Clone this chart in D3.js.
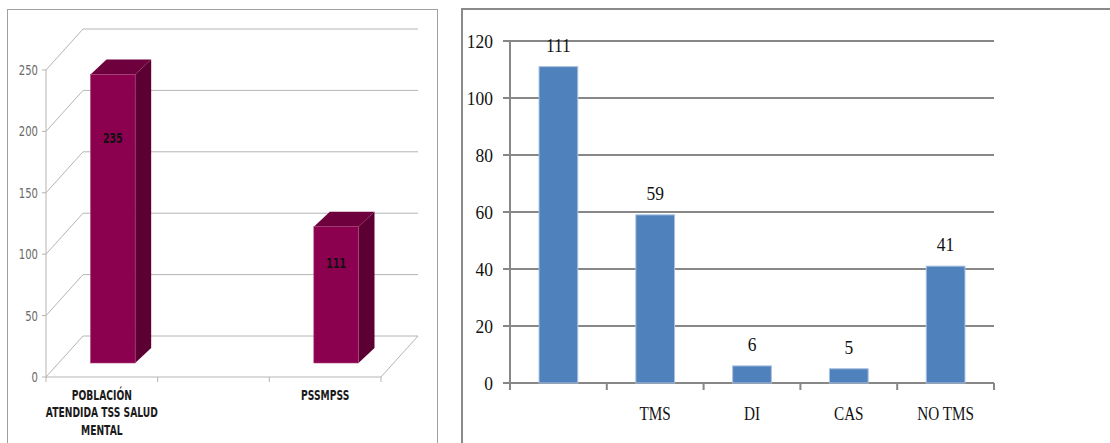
<!DOCTYPE html>
<html>
<head>
<meta charset="utf-8">
<script src="https://cdn.jsdelivr.net/npm/d3@7"></script>
<style>
  html, body { margin: 0; padding: 0; background: #fff; }
  svg { display: block; }
</style>
</head>
<body>
<svg id="chart" width="1110" height="443"></svg>
<script>
// ---------- Data ----------
// Left chart (3D columns)
const leftCategories = ["POBLACIÓN ATENDIDA TSS SALUD MENTAL", "", "PSSMPSS"];
const leftLabelLines = [["POBLACIÓN", "ATENDIDA TSS SALUD", "MENTAL"], [], ["PSSMPSS"]];
const leftValues = [235, null, 111];
const leftTicks = [0, 50, 100, 150, 200, 250];

// Right chart (2D columns)
const rightCategories = ["", "TMS", "DI", "CAS", "NO TMS"];
const rightValues = [111, 59, 6, 5, 41];
const rightTicks = [0, 20, 40, 60, 80, 100, 120];

// ---------- Helpers ----------
const svg = d3.select("#chart");

function stext(g, x, y, str, o) {
  return g.append("text")
    .attr("transform", `translate(${x},${y}) scale(${o.sx || 1},1)`)
    .attr("text-anchor", o.anchor || "middle")
    .attr("dy", o.dy || "0.35em")
    .attr("font-family", o.family)
    .attr("font-size", o.size)
    .attr("font-weight", o.weight || "normal")
    .attr("fill", o.fill || "#000")
    .text(str);
}

// ---------- Frames ----------
svg.append("rect").attr("x", 7.5).attr("y", 9.5).attr("width", 430).attr("height", 460)
  .attr("fill", "none").attr("stroke", "#a0a0a0").attr("stroke-width", 1);
svg.append("rect").attr("x", 462).attr("y", 9).attr("width", 700).attr("height", 460)
  .attr("fill", "none").attr("stroke", "#8a8a8a").attr("stroke-width", 2);

// ---------- Left chart ----------
const L = svg.append("g");
const backDX = 37, backDY = -41;      // depth of the 3D box
const barShiftX = 11, barShiftY = -14; // bar position within depth
const barDX = 16, barDY = -15;         // bar thickness
const xL = d3.scaleBand().domain(d3.range(leftCategories.length)).range([46, 381])
  .paddingInner(0.6).paddingOuter(0.3);
const yL = d3.scaleLinear().domain([0, 250]).range([377, 70]);
const gridL = "#b4b4b4";

// back wall gridlines
leftTicks.forEach(t => {
  L.append("line")
    .attr("x1", xL.range()[0] + backDX).attr("x2", xL.range()[1] + backDX)
    .attr("y1", yL(t) + backDY).attr("y2", yL(t) + backDY)
    .attr("stroke", gridL).attr("stroke-width", 1);
  // side wall diagonals
  L.append("line")
    .attr("x1", xL.range()[0]).attr("y1", yL(t))
    .attr("x2", xL.range()[0] + backDX).attr("y2", yL(t) + backDY)
    .attr("stroke", gridL).attr("stroke-width", 1);
  // tick marks
  L.append("line")
    .attr("x1", xL.range()[0] - 4).attr("x2", xL.range()[0])
    .attr("y1", yL(t)).attr("y2", yL(t))
    .attr("stroke", gridL).attr("stroke-width", 1);
  stext(L, xL.range()[0] - 8, yL(t), String(t),
    { anchor: "end", family: "DejaVu Sans", size: 14, fill: "#6a6a6a", sx: 0.72 });
});
// front vertical axis
L.append("line").attr("x1", xL.range()[0]).attr("x2", xL.range()[0])
  .attr("y1", yL(250)).attr("y2", yL(0)).attr("stroke", gridL).attr("stroke-width", 1);
// floor front edge and right edge
L.append("line").attr("x1", xL.range()[0]).attr("x2", xL.range()[1])
  .attr("y1", yL(0)).attr("y2", yL(0)).attr("stroke", gridL).attr("stroke-width", 1);
L.append("line").attr("x1", xL.range()[1]).attr("y1", yL(0))
  .attr("x2", xL.range()[1] + backDX).attr("y2", yL(0) + backDY)
  .attr("stroke", gridL).attr("stroke-width", 1);
// x tick marks at category boundaries
d3.range(leftCategories.length + 1).forEach(i => {
  const x = xL.range()[0] + i * xL.step();
  L.append("line").attr("x1", x).attr("x2", x).attr("y1", yL(0)).attr("y2", yL(0) + 5)
    .attr("stroke", gridL).attr("stroke-width", 1);
});

// bars
leftValues.forEach((v, i) => {
  if (v == null) return;
  const x0 = xL(i) + barShiftX, x1 = x0 + xL.bandwidth();
  const yb = yL(0) + barShiftY, yt = yL(v) + barShiftY;
  // side face
  L.append("path").attr("d", d3.line()([[x1, yt], [x1 + barDX, yt + barDY], [x1 + barDX, yb + barDY], [x1, yb]]))
    .attr("fill", "#5c0033");
  // top face
  L.append("path").attr("d", d3.line()([[x0, yt], [x0 + barDX, yt + barDY], [x1 + barDX, yt + barDY], [x1, yt]]))
    .attr("fill", "#6e003e");
  // front face
  L.append("rect").attr("x", x0).attr("y", yt).attr("width", x1 - x0).attr("height", yb - yt)
    .attr("fill", "#8c0050").attr("stroke", "#a8467c").attr("stroke-width", 0.6);
  // value label
  const h = yb - yt;
  stext(L, (x0 + x1) / 2, yt + 0.18 * h + 12, String(v),
    { family: "DejaVu Sans", size: 13.5, weight: "bold", fill: "#111", sx: 0.7 });
});

// category labels
leftLabelLines.forEach((lines, i) => {
  const cx = xL(i) + xL.bandwidth() / 2;
  lines.forEach((ln, j) => {
    stext(L, cx, 395 + j * 17.5, ln,
      { family: "DejaVu Sans", size: 13.5, weight: "bold", fill: "#1a1a1a", sx: 0.68 });
  });
});

// ---------- Right chart ----------
const R = svg.append("g");
const xR = d3.scaleBand().domain(d3.range(rightCategories.length)).range([510, 994])
  .paddingInner(0.6).paddingOuter(0.3);
const yR = d3.scaleLinear().domain([0, 120]).range([383, 41]);
const gridR = "#878787";

rightTicks.forEach(t => {
  R.append("line").attr("x1", xR.range()[0] - 7).attr("x2", xR.range()[1])
    .attr("y1", yR(t)).attr("y2", yR(t)).attr("stroke", gridR).attr("stroke-width", 2);
  stext(R, xR.range()[0] - 17, yR(t), String(t),
    { anchor: "end", family: "Liberation Serif", size: 19, fill: "#111", sx: 0.92 });
});
// y axis line
R.append("line").attr("x1", xR.range()[0]).attr("x2", xR.range()[0])
  .attr("y1", yR(120)).attr("y2", yR(0)).attr("stroke", gridR).attr("stroke-width", 2);
// x ticks
d3.range(rightCategories.length + 1).forEach(i => {
  const x = xR.range()[0] + i * xR.step();
  R.append("line").attr("x1", x).attr("x2", x).attr("y1", yR(0)).attr("y2", yR(0) + 7)
    .attr("stroke", gridR).attr("stroke-width", 2);
});
// bars
rightValues.forEach((v, i) => {
  R.append("rect").attr("x", xR(i)).attr("y", yR(v)).attr("width", xR.bandwidth())
    .attr("height", yR(0) - yR(v)).attr("fill", "#4f81bd")
    .attr("stroke", "#a9c0de").attr("stroke-width", 1);
  stext(R, xR(i) + xR.bandwidth() / 2, yR(v) - 15, String(v),
    { dy: "0", family: "Liberation Serif", size: 19, fill: "#111", sx: 0.92 });
});
// category labels
rightCategories.forEach((c, i) => {
  stext(R, xR(i) + xR.bandwidth() / 2, 420, c,
    { dy: "0", family: "Liberation Serif", size: 19, fill: "#111", sx: 0.8 });
});
</script>
</body>
</html>
